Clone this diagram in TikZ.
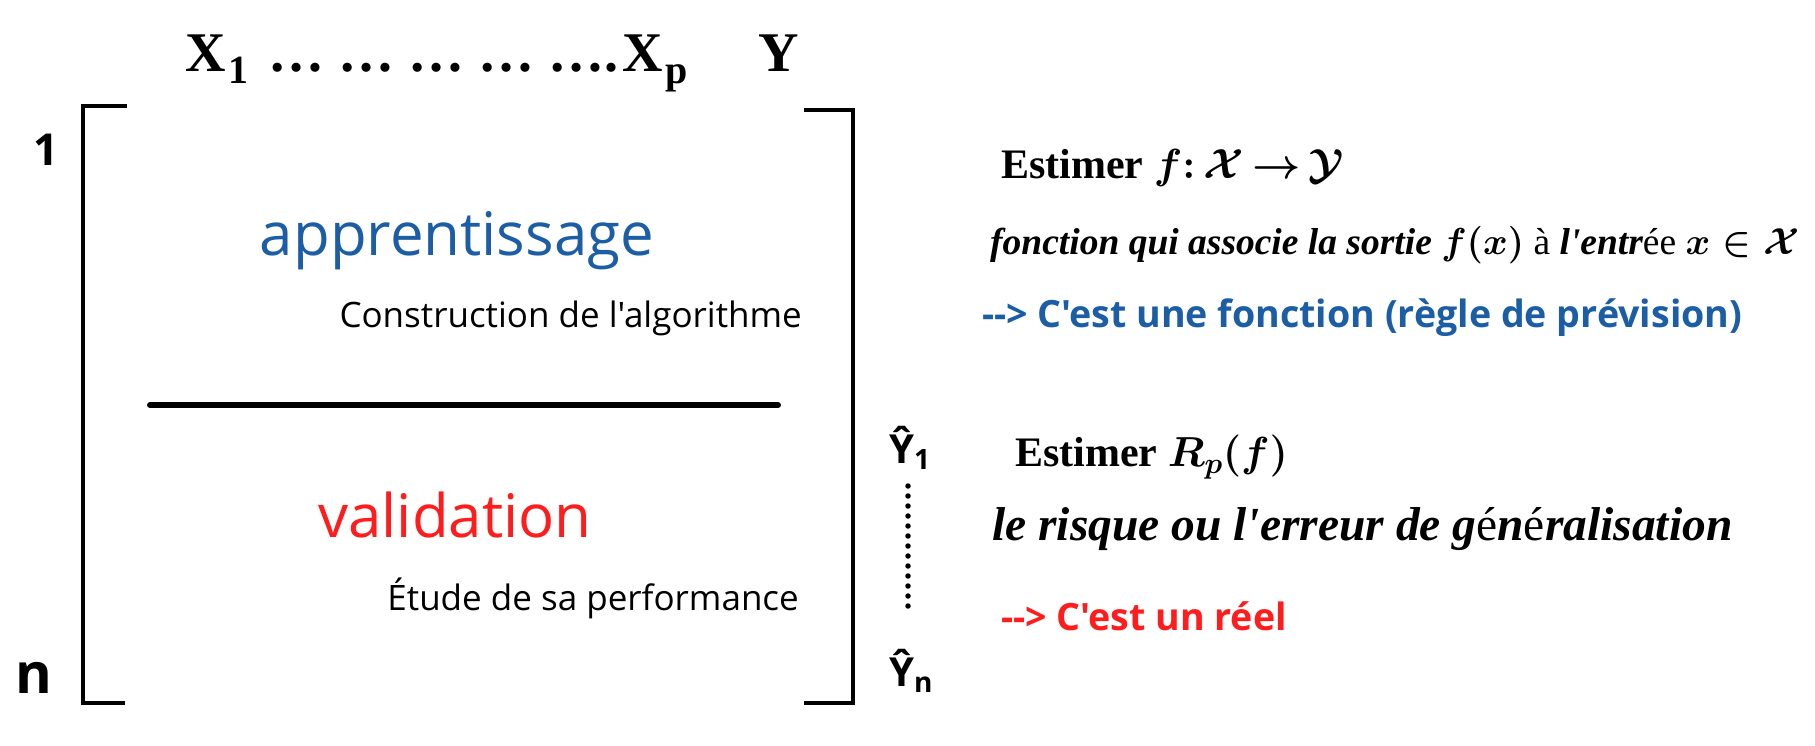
\RequirePackage{fix-cm}
\documentclass[tikz,border=0pt]{standalone}
\usepackage{fontspec}
\newfontfamily\opensans{Open Sans}
\newfontfamily\tnr{Liberation Serif}
\definecolor{learnblue}{HTML}{1C5EA6}
\definecolor{validred}{HTML}{FF1C1C}
\newcommand\hdrsub[1]{\kern3pt\raisebox{-12pt}{\fontsize{40}{48}\selectfont #1}}

\begin{document}
\begin{tikzpicture}[x=1pt,y=-1pt,
  every node/.style={inner sep=0pt},
  hdr/.style={font=\tnr\bfseries\fontsize{56}{64}\selectfont, anchor=base west},
  idx/.style={font=\opensans\bfseries\fontsize{44}{52}\selectfont},
  yhat/.style={font=\opensans\bfseries\fontsize{40}{48}\selectfont, anchor=base west},
  big/.style={font=\opensans\fontsize{60}{72}\selectfont},
  small/.style={font=\opensans\fontsize{35}{42}\selectfont, anchor=east},
  est/.style={font=\tnr\fontsize{42}{50}\selectfont\bfseries\boldmath, anchor=west},
  desc/.style={font=\tnr\fontsize{37.5}{44}\selectfont\bfseries\itshape\boldmath, anchor=west},
  note/.style={font=\opensans\bfseries\fontsize{37.6}{46}\selectfont, anchor=west},
  bracket/.style={line width=4.5pt},
  dotline/.style={line width=5.5pt, line cap=round, dash pattern=on 0pt off 10pt}]
  \useasboundingbox (0,0) rectangle (1815,746);

  % column headers
  \node[hdr] (xone) at (185,72) {X\hdrsub{1}};
  \node[hdr] (dots) at (268,72) {\makebox[350pt][l]{\ldots\hfill\ldots\hfill\ldots\hfill\ldots\hfill\ldots.}};
  \node[hdr] (xp) at (622,72) {X\hdrsub{p}};
  \node[hdr] (yy) at (758,72) {Y};

  % row indices
  \node[idx] (first) at (46,150) {1};
  \node[idx, font=\opensans\bfseries\fontsize{56}{64}\selectfont] (last) at (34,678) {n};

  % the matrix
  \draw[bracket] (127,106) -- (83,106) -- (83,703) -- (125,703);
  \draw[bracket] (804,110) -- (853,110) -- (853,703) -- (804,703);
  \draw[line width=6pt, line cap=round] (150,405) -- (778,405);

  \node[big, text=learnblue] (learn) at (457,241) {apprentissage};
  \node[small] (learnsub) at (802,318) {Construction de l'algorithme};
  \node[big, text=validred] (valid) at (455,515) {validation};
  \node[small] (validsub) at (799,598) {Étude de sa performance};

  % predictions
  \node[yhat] (yone) at (889,463) {Ŷ\textsubscript{1}};
  \node[yhat] (yn) at (889,686) {Ŷ\textsubscript{n}};
  \coordinate (dtop) at (908,486);
  \coordinate (dbot) at (908,613);
  \draw[dotline] (dtop) -- (dbot);

  % what is estimated
  \node[est] (estf) at (1001,168) {Estimer $f\colon\mathcal{X}\,{\rightarrow}\,\mathcal{Y}$};
  \node[desc] (fdesc) at (990,245) {fonction qui associe la sortie $f(x)$ {\upshape\mdseries à} l'entr{\upshape\mdseries ée} $x\in\mathcal{X}$};
  \node[note, text=learnblue] (fnote) at (982,318) {\mbox{-}\mbox{-}> C'est une fonction (règle de prévision)};
  \node[est] (estr) at (1015,457) {Estimer $R_p(f)$};
  \node[desc, font=\tnr\fontsize{47.5}{54}\selectfont\bfseries\itshape] (rdesc) at (992,529) {le risque ou l'erreur de g{\upshape\mdseries é}n{\upshape\mdseries é}ralisation};
  \node[note, text=validred] (rnote) at (1001,616) {\mbox{-}\mbox{-}> C'est un réel};
\end{tikzpicture}
\end{document}
